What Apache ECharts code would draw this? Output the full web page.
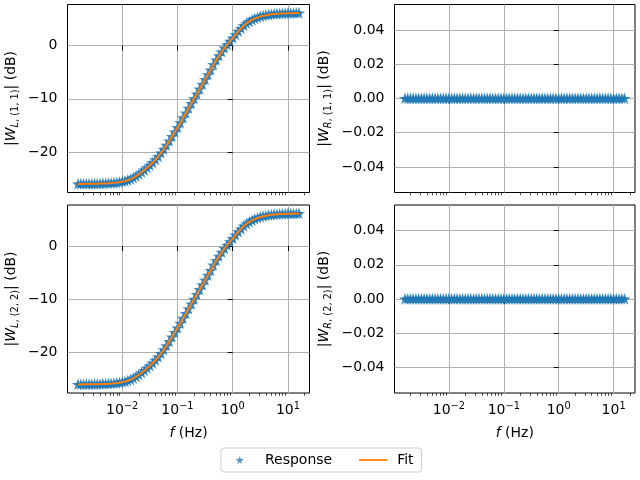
<!DOCTYPE html>
<html>
<head>
<meta charset="utf-8">
<script src="https://cdn.jsdelivr.net/npm/echarts@6/dist/echarts.min.js"></script>
<style>
html, body { margin: 0; padding: 0; background: #fff; }
#chart { width: 640px; height: 480px; }
</style>
</head>
<body>
<div id="chart"></div>
<script>
// frequency points (Hz), 20 per decade
const freqHz = [
  0.001585, 0.001778, 0.001995, 0.002239, 0.002512, 0.002818, 0.003162, 0.003548, 0.003981, 0.004467,
  0.005012, 0.005623, 0.00631, 0.007079, 0.007943, 0.008913,
  0.01, 0.01122, 0.01259, 0.01413, 0.01585, 0.01778, 0.01995, 0.02239, 0.02512, 0.02818,
  0.03162, 0.03548, 0.03981, 0.04467, 0.05012, 0.05623, 0.0631, 0.07079, 0.07943, 0.08913,
  0.1, 0.1122, 0.1259, 0.1413, 0.1585, 0.1778, 0.1995, 0.2239, 0.2512, 0.2818,
  0.3162, 0.3548, 0.3981, 0.4467, 0.5012, 0.5623, 0.631, 0.7079, 0.7943, 0.8913,
  1, 1.122, 1.259, 1.413, 1.585, 1.778, 1.995, 2.239, 2.512, 2.818,
  3.162, 3.548, 3.981, 4.467, 5.012, 5.623, 6.31, 7.079, 7.943, 8.913,
  10, 11.22, 12.59, 14.13, 15.85
];

// |W_L,(1,1)| in dB (response and fit lie on top of each other)
const wL11 = [
  -26.0, -26.0, -25.98, -25.98, -25.97, -25.97, -25.96, -25.95, -25.93, -25.91,
  -25.89, -25.86, -25.83, -25.79, -25.73, -25.66,
  -25.55, -25.45, -25.3, -25.1, -24.85, -24.55, -24.2, -23.8, -23.4, -22.95,
  -22.5, -22.0, -21.45, -20.85, -20.2, -19.5, -18.75, -17.95, -17.1, -16.25,
  -15.4, -14.5, -13.6, -12.7, -11.8, -10.9, -10.0, -9.1, -8.2, -7.3,
  -6.4, -5.5, -4.6, -3.6, -2.75, -1.95, -1.2, -0.5, 0.15, 0.8,
  1.4, 2.05, 2.65, 3.2, 3.75, 4.15, 4.5, 4.8, 5.05, 5.27,
  5.45, 5.59, 5.7, 5.79, 5.86, 5.92, 5.96, 5.99, 6.02, 6.04,
  6.06, 6.07, 6.08, 6.09, 6.1
];
const wL22 = wL11.slice();

// |W_R| in dB: flat at zero
const wR11 = [
  0, 0, 0, 0, 0, 0, 0, 0, 0, 0, 0, 0, 0, 0, 0, 0,
  0, 0, 0, 0, 0, 0, 0, 0, 0, 0, 0, 0, 0, 0, 0, 0, 0, 0, 0, 0, 0, 0, 0, 0,
  0, 0, 0, 0, 0, 0, 0, 0, 0, 0, 0, 0, 0, 0, 0, 0, 0, 0, 0, 0,
  0, 0, 0, 0, 0, 0, 0, 0, 0, 0, 0, 0, 0, 0, 0, 0, 0, 0, 0, 0, 0
];
const wR22 = wR11.slice();

// ticks (x in log10 Hz)
const xMajor = [-2, -1, 0, 1];
const minorMult = [2, 3, 4, 5, 6, 7, 8, 9];
const decades = [-3, -2, -1, 0, 1];
const yTicksL = [-20, -10, 0];
const yTicksR = [-0.04, -0.02, 0, 0.02, 0.04];

const X_MIN = -2.99, X_MAX = 1.39;
const BLUE = '#1f77b4', ORANGE = '#ff7f0e';
const FONT = 'DejaVu Sans';
const STAR_PTS = 'M0 -1 L0.2245 -0.309 L0.951 -0.309 L0.363 0.118 L0.588 0.809 L0 0.382 L-0.588 0.809 L-0.363 0.118 L-0.951 -0.309 L-0.2245 -0.309 Z';
const STAR = 'path://' + STAR_PTS;
// legend star: an empty sub-path on the left pushes the star to the middle of the handle
const LEGEND_STAR = 'path://M-3.1 0 L-3.1 0.0001 Z ' + STAR_PTS;
const LINE_ICON = 'path://M0 0 L30 0 L30 2 L0 2 Z';

const xMinor = [];
decades.forEach(function (d) {
  minorMult.forEach(function (m) {
    const v = d + Math.log10(m);
    if (v > X_MIN && v < X_MAX) xMinor.push(v);
  });
});

function pairs(vals) {
  return freqHz.map(function (f, i) { return [Math.log10(f), vals[i]]; });
}

function minusSign(s) { return String(s).replace('-', '\u2212'); }

const grids = [
  { left: 67.5, top: 4.5, width: 242, height: 188 },
  { left: 394.5, top: 4.5, width: 240.5, height: 188 },
  { left: 67.5, top: 205, width: 242, height: 188 },
  { left: 394.5, top: 205, width: 240.5, height: 188 }
].map(function (g) {
  return Object.assign({ show: true, borderColor: '#000', borderWidth: 1, backgroundColor: '#fff' }, g);
});

const xAxes = [];
const yAxes = [];
const names = [
  { t: 'L', n: '1, 1' }, { t: 'R', n: '1, 1' }, { t: 'L', n: '2, 2' }, { t: 'R', n: '2, 2' }
];

for (let i = 0; i < 4; i++) {
  const bottomRow = i >= 2;
  const leftCol = i % 2 === 0;
  xAxes.push({
    type: 'value', gridIndex: i, position: 'bottom', min: X_MIN, max: X_MAX,
    axisLine: { show: false },
    axisTick: { show: true, length: 5, customValues: xMajor, lineStyle: { color: '#000', width: 1 } },
    axisLabel: {
      show: bottomRow, customValues: xMajor, margin: 8, color: '#000', fontSize: 14, fontFamily: FONT,
      formatter: function (v) { return '10{sup|' + minusSign(Math.round(v)) + '}'; },
      rich: { sup: { fontSize: 9.8, fontFamily: FONT, color: '#000', padding: [0, 0, 8, 0] } }
    },
    splitLine: { show: true, lineStyle: { color: '#b0b0b0', width: 1 } },
    name: bottomRow ? '{it|f} (Hz)' : '',
    nameLocation: 'middle', nameGap: 33,
    nameTextStyle: { color: '#000', fontSize: 14, fontFamily: FONT,
      rich: { it: { fontStyle: 'italic', fontSize: 14, fontFamily: FONT, color: '#000' } } }
  });
  yAxes.push({
    type: 'value', gridIndex: i,
    min: leftCol ? -27.6 : -0.055, max: leftCol ? 7.7 : 0.055,
    axisLine: { show: false },
    axisTick: { show: true, length: 5, customValues: leftCol ? yTicksL : yTicksR, lineStyle: { color: '#000', width: 1 } },
    axisLabel: {
      customValues: leftCol ? yTicksL : yTicksR, margin: 10, color: '#000', fontSize: 14, fontFamily: FONT,
      formatter: function (v) { return minusSign(leftCol ? Math.round(v) : v.toFixed(2)); }
    },
    splitLine: { show: true, lineStyle: { color: '#b0b0b0', width: 1 } },
    name: '|{it|W}{subi|' + names[i].t + '}{sub|, (' + names[i].n + ')}| (dB)',
    nameLocation: 'middle', nameGap: leftCol ? 47 : 61,
    nameTextStyle: { color: '#000', fontSize: 14, fontFamily: FONT,
      rich: {
        it: { fontStyle: 'italic', fontSize: 14, fontFamily: FONT, color: '#000' },
        subi: { fontStyle: 'italic', fontSize: 9.8, fontFamily: FONT, color: '#000', padding: [9, 0, 0, 0] },
        sub: { fontSize: 9.8, fontFamily: FONT, color: '#000', padding: [9, 0, 0, 0] }
      } }
  });
}
// minor x ticks, one extra axis per grid
for (let i = 0; i < 4; i++) {
  xAxes.push({
    type: 'value', gridIndex: i, position: 'bottom', min: X_MIN, max: X_MAX,
    axisLine: { show: false },
    axisTick: { show: true, length: 2.8, customValues: xMinor, lineStyle: { color: '#000', width: 0.7 } },
    axisLabel: { show: false },
    splitLine: { show: false }
  });
}

const respData = [wL11, wR11, wL22, wR22];
const series = [];
for (let i = 0; i < 4; i++) {
  series.push({
    name: 'Response', type: 'scatter', xAxisIndex: i, yAxisIndex: i,
    data: pairs(respData[i]), symbol: STAR, symbolSize: [8.4, 8],
    itemStyle: { color: BLUE, borderColor: BLUE, borderWidth: 1.3 }, z: 2
  });
  if (i % 2 === 0) {
    series.push({
      name: 'Fit', type: 'line', xAxisIndex: i, yAxisIndex: i,
      data: pairs(respData[i]), symbol: 'none', lineStyle: { color: ORANGE, width: 2 },
      itemStyle: { color: ORANGE }, z: 3
    });
  }
}

const chart = echarts.init(document.getElementById('chart'));
chart.setOption({
  animation: false,
  backgroundColor: '#fff',
  grid: grids,
  xAxis: xAxes,
  yAxis: yAxes,
  legend: {
    left: 221, top: 448, orient: 'horizontal',
    data: [
      { name: 'Response', icon: LEGEND_STAR, itemStyle: { borderWidth: 0 }, textStyle: { padding: [0, 0, 0, 11] } },
      { name: 'Fit', icon: LINE_ICON, textStyle: { padding: [0, 0, 0, 5] } }
    ],
    itemWidth: 28, itemHeight: 8, itemGap: 27, symbolKeepAspect: true,
    padding: [5, 8, 5, 5],
    borderColor: '#cccccc', borderWidth: 1, borderRadius: 3, backgroundColor: 'rgba(255,255,255,0.8)',
    textStyle: { color: '#000', fontSize: 14, fontFamily: FONT }
  },
  series: series
});
</script>
</body>
</html>
